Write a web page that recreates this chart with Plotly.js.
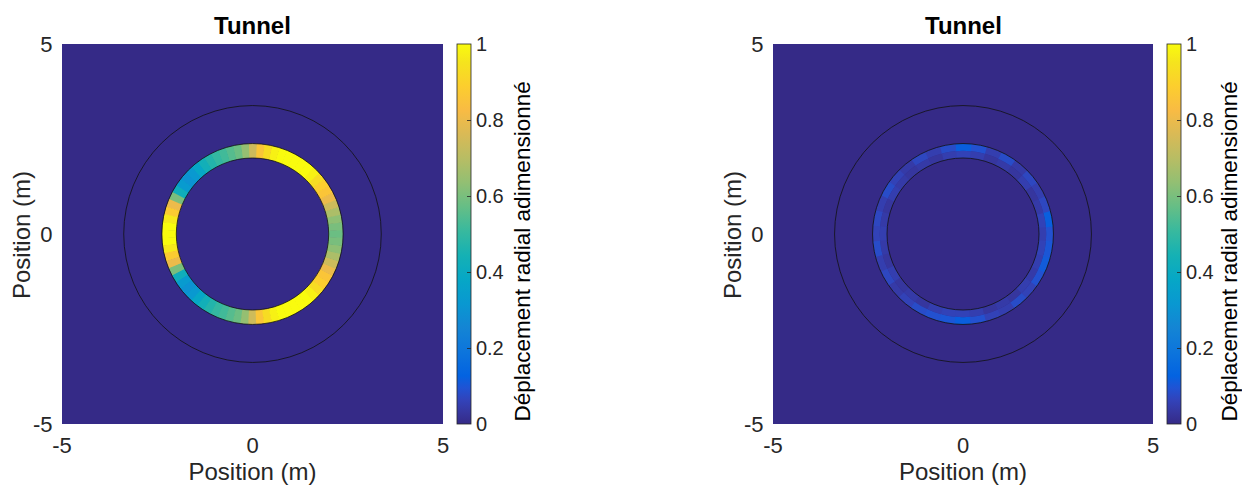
<!DOCTYPE html>
<html>
<head>
<meta charset="utf-8">
<script src="https://cdn.plot.ly/plotly-3.0.1.min.js"></script>
<style>html,body{margin:0;padding:0;background:#fff;}#chart{width:1242px;height:489px;}</style>
</head>
<body>
<div id="chart"></div>
<script>
// ---- data ----
const panelTitles = ['Tunnel', 'Tunnel'];
const axisLabel = 'Position (m)';
const colorbarLabel = 'Déplacement radial adimensionné';
const axisTicks = [-5, 0, 5];
const axisTickText = ['-5', '0', '5'];
const colorTicks = [0, 0.2, 0.4, 0.6, 0.8, 1];
const colorTickText = ['0', '0.2', '0.4', '0.6', '0.8', '1'];
const circleRadii = [2, 2.38, 3.38];      // tunnel inner edge, tunnel outer edge, outer boundary (m)
const ringInner = 2;                      // m
const ringOuter = 2.38;                   // m
const ringMid = 2.19;                     // m

// Left panel: ring value by angle (deg, counter-clockwise from +x), 5° bins
const leftTheta = [0,5,10,15,20,25,30,35,40,45,50,55,60,65,70,75,80,85,90,95,100,105,110,115,120,125,130,135,140,145,150,155,160,165,170,175,
                   180,185,190,195,200,205,210,215,220,225,230,235,240,245,250,255,260,265,270,275,280,285,290,295,300,305,310,315,320,325,330,335,340,345,350,355];
const leftValue = [0.58,0.60,0.63,0.68,0.74,0.80,0.86,0.89,0.93,0.98,1.00,1.00,1.00,1.00,1.00,0.98,0.93,0.86,0.74,0.64,0.58,0.55,0.52,0.50,0.47,0.43,0.38,0.32,0.30,0.33,0.42,0.60,0.80,0.88,0.96,1.00,
                   1.00,1.00,0.96,0.88,0.80,0.60,0.42,0.33,0.30,0.32,0.38,0.43,0.47,0.50,0.52,0.55,0.58,0.64,0.74,0.86,0.93,0.98,1.00,1.00,1.00,1.00,1.00,0.98,0.93,0.89,0.86,0.80,0.74,0.68,0.63,0.60];

// Right panel: residual values, 10° bins, inner and outer half of the ring
const rightTheta = [0,10,20,30,40,50,60,70,80,90,100,110,120,130,140,150,160,170,180,190,200,210,220,230,240,250,260,270,280,290,300,310,320,330,340,350];
const rightInner = [0.05,0.06,0.04,0.03,0.05,0.03,0.04,0.03,0.05,0.06,0.05,0.03,0.04,0.03,0.04,0.05,0.03,0.04,0.05,0.04,0.03,0.05,0.03,0.04,0.03,0.05,0.06,0.06,0.05,0.03,0.04,0.03,0.05,0.04,0.05,0.06];
const rightOuter = [0.09,0.12,0.07,0.05,0.07,0.04,0.08,0.05,0.09,0.12,0.08,0.05,0.07,0.04,0.06,0.08,0.05,0.07,0.06,0.08,0.05,0.07,0.04,0.06,0.08,0.09,0.10,0.12,0.09,0.06,0.05,0.08,0.06,0.09,0.11,0.10];

// ---- style ----
const parula = [
  [0.000,'rgb(53,42,135)'],[0.032,'rgb(54,55,160)'],[0.063,'rgb(50,67,186)'],[0.095,'rgb(32,83,212)'],
  [0.127,'rgb(3,99,225)'],[0.190,'rgb(13,117,220)'],[0.254,'rgb(20,133,212)'],[0.317,'rgb(9,152,209)'],
  [0.381,'rgb(6,167,198)'],[0.444,'rgb(21,177,180)'],[0.508,'rgb(56,185,158)'],[0.571,'rgb(101,190,134)'],
  [0.635,'rgb(146,191,115)'],[0.698,'rgb(183,189,100)'],[0.762,'rgb(217,186,86)'],[0.825,'rgb(248,187,68)'],
  [0.889,'rgb(252,206,46)'],[0.952,'rgb(245,228,29)'],[1.000,'rgb(249,251,14)']
];
const FONT = 'Liberation Sans, Arial, Helvetica, sans-serif';
const W = 1242, H = 489;
const panels = [
  {x0: 62, x1: 443, cb: 457},
  {x0: 773, x1: 1153, cb: 1167}
];
const plotTop = 44, plotBottom = 424;
const yDom = [(H - plotBottom) / H, (H - plotTop) / H];

function colorbar(xpx) {
  return {
    x: xpx / W, xanchor: 'left', xref: 'paper',
    y: yDom[0], yanchor: 'bottom', yref: 'paper',
    len: plotBottom - plotTop, lenmode: 'pixels',
    thickness: 14, thicknessmode: 'pixels',
    xpad: 0, ypad: 0,
    outlinewidth: 0.8, outlinecolor: '#262626',
    ticks: 'inside', ticklen: 4, tickcolor: '#262626', tickwidth: 0.8,
    tickvals: colorTicks, ticktext: colorTickText,
    tickfont: {family: FONT, size: 20, color: '#262626'}
  };
}

const traces = [
  {
    type: 'barpolar', subplot: 'polar',
    theta: leftTheta,
    r: leftTheta.map(() => ringOuter - ringInner),
    base: ringInner,
    width: 5.4,
    marker: {color: leftValue, colorscale: parula, cmin: 0, cmax: 1, line: {width: 0},
             showscale: true, colorbar: colorbar(panels[0].cb)},
    hoverinfo: 'skip'
  },
  {
    type: 'barpolar', subplot: 'polar2',
    theta: rightTheta,
    r: rightTheta.map(() => ringMid - ringInner),
    base: ringInner,
    width: 10.6,
    marker: {color: rightInner, colorscale: parula, cmin: 0, cmax: 1, line: {width: 0}, showscale: false},
    hoverinfo: 'skip'
  },
  {
    type: 'barpolar', subplot: 'polar2',
    theta: rightTheta,
    r: rightTheta.map(() => ringOuter - ringMid),
    base: ringMid,
    width: 10.6,
    marker: {color: rightOuter, colorscale: parula, cmin: 0, cmax: 1, line: {width: 0},
             showscale: true, colorbar: colorbar(panels[1].cb)},
    hoverinfo: 'skip'
  }
];

function cartAxis(dom, isX, anchor) {
  const ax = {
    domain: dom, anchor: anchor, range: [-5, 5],
    tickvals: axisTicks, ticktext: axisTickText,
    ticks: 'outside', ticklen: isX ? 2 : 4, tickcolor: 'rgba(0,0,0,0)',
    showgrid: false, zeroline: false, showline: false,
    tickfont: {family: FONT, size: 22, color: '#262626'},
    fixedrange: true
  };
  if (isX) ax.title = {text: axisLabel, font: {family: FONT, size: 24, color: '#262626'}, standoff: 3};
  return ax;
}

function polarLayout(p) {
  return {
    domain: {x: [p.x0 / W, p.x1 / W], y: yDom},
    bgcolor: 'rgba(0,0,0,0)',
    hole: 0,
    radialaxis: {range: [0, 5], visible: false, showgrid: false, showline: false},
    angularaxis: {visible: false, rotation: 0, direction: 'counterclockwise', showgrid: false, showline: false},
    barmode: 'overlay'
  };
}

const shapes = [];
[['x', 'y'], ['x2', 'y2']].forEach(([xr, yr]) => {
  circleRadii.forEach(r => {
    shapes.push({type: 'circle', xref: xr, yref: yr, x0: -r, x1: r, y0: -r, y1: r,
                 line: {color: '#111', width: 0.8}, layer: 'above'});
  });
});

const annotations = [];
panels.forEach((p, i) => {
  // panel title
  annotations.push({
    text: '<b>' + panelTitles[i] + '</b>', xref: 'paper', yref: 'paper',
    x: ((p.x0 + p.x1) / 2) / W, y: (H - 25) / H, xanchor: 'center', yanchor: 'middle',
    showarrow: false, font: {family: FONT, size: 24, color: '#000'}
  });
  // y-axis title
  annotations.push({
    text: axisLabel, xref: 'paper', yref: 'paper', textangle: -90,
    x: (p.x0 - 40) / W, y: (H - 235) / H, xanchor: 'center', yanchor: 'middle',
    showarrow: false, borderpad: 0, font: {family: FONT, size: 24, color: '#262626'}
  });
  // colorbar title
  annotations.push({
    text: colorbarLabel, xref: 'paper', yref: 'paper', textangle: -90,
    x: Math.min(p.cb + 78, W) / W, y: (H - 252) / H, xanchor: 'right', yanchor: 'middle',
    showarrow: false, borderpad: 0, font: {family: FONT, size: 22.5, color: '#000'}
  });
});

const layout = {
  width: W, height: H,
  margin: {l: 0, r: 0, t: 0, b: 0, pad: 0},
  paper_bgcolor: '#ffffff',
  plot_bgcolor: 'rgb(53,42,135)',
  showlegend: false,
  xaxis: cartAxis([panels[0].x0 / W, panels[0].x1 / W], true, 'y'),
  yaxis: cartAxis(yDom, false, 'x'),
  xaxis2: cartAxis([panels[1].x0 / W, panels[1].x1 / W], true, 'y2'),
  yaxis2: cartAxis(yDom, false, 'x2'),
  polar: polarLayout(panels[0]),
  polar2: polarLayout(panels[1]),
  shapes: shapes,
  annotations: annotations
};

Plotly.newPlot('chart', traces, layout, {displayModeBar: false, staticPlot: true});
</script>
</body>
</html>
